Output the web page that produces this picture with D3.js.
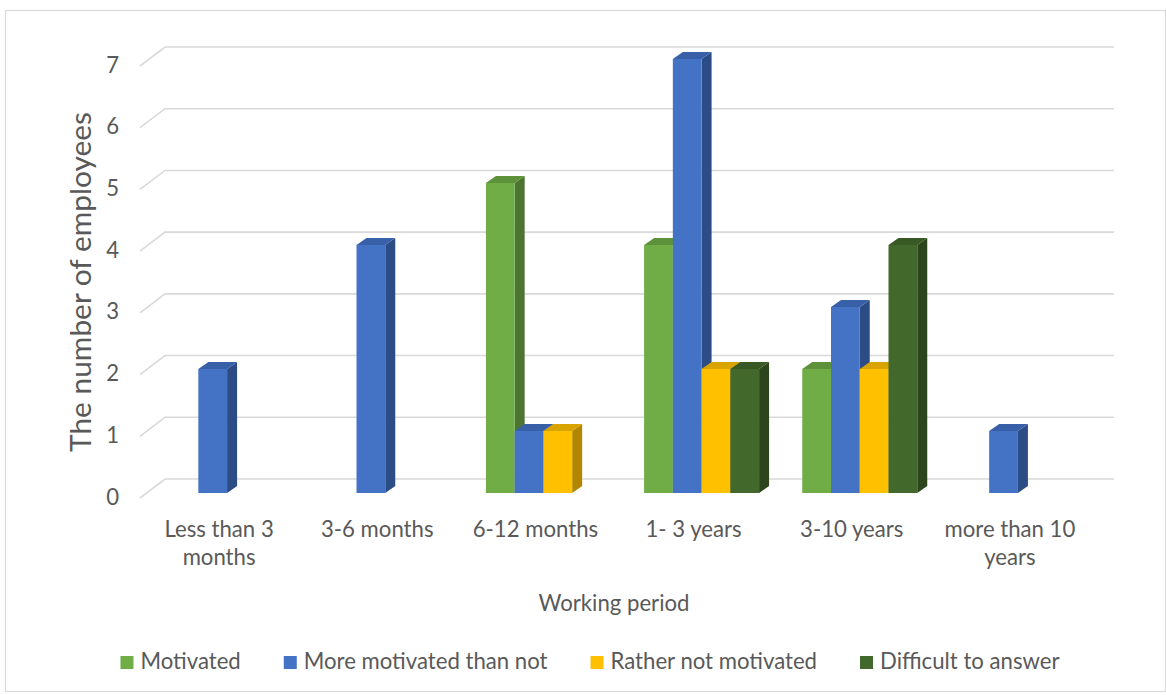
<!DOCTYPE html>
<html>
<head>
<meta charset="utf-8">
<script src="https://cdn.jsdelivr.net/npm/d3@7"></script>
<style>
  html, body { margin: 0; padding: 0; background: #fff; }
  svg { display: block; }
  text { font-family: Lato, "Open Sans", sans-serif; fill: #595959; }
</style>
</head>
<body>
<svg id="chart" width="1166" height="695"></svg>
<script>
// ---- data ----
const categories = ["Less than 3 months", "3-6 months", "6-12 months", "1- 3 years", "3-10 years", "more than 10 years"];
const categoryLines = [["Less than 3", "months"], ["3-6 months"], ["6-12 months"], ["1- 3 years"], ["3-10 years"], ["more than 10", "years"]];
const seriesNames = ["Motivated", "More motivated than not", "Rather not motivated", "Difficult to answer"];
const motivated = [0, 0, 5, 4, 2, 0];
const moreMotivated = [2, 4, 1, 7, 3, 1];
const ratherNot = [0, 0, 1, 2, 2, 0];
const difficult = [0, 0, 0, 2, 4, 0];
const yTicks = [0, 1, 2, 3, 4, 5, 6, 7];
const yTitle = "The number of employees";
const xTitle = "Working period";

const seriesValues = [motivated, moreMotivated, ratherNot, difficult];
const colors = [
  { front: "#70AD47", side: "#4B7530", top: "#5D913A" },
  { front: "#4472C4", side: "#2C4C85", top: "#3860A8" },
  { front: "#FFC000", side: "#B38600", top: "#D9A300" },
  { front: "#43682B", side: "#2C451C", top: "#385824" }
];

const svg = d3.select("#chart");

// border
svg.append("rect").attr("x", 5.5).attr("y", 10.5).attr("width", 1160).attr("height", 681)
  .attr("fill", "#fff").attr("stroke", "#D9D9D9").attr("stroke-width", 1.2);

// font sizing: fit reference text width
const probe = svg.append("text").style("font-size", "20px").text(seriesNames[1]);
const probeW = probe.node().getComputedTextLength();
probe.remove();
const fs = 20 * 244 / probeW;
const probe2 = svg.append("text").style("font-size", "20px").text(yTitle);
const probe2W = probe2.node().getComputedTextLength();
probe2.remove();
const fsTitle = 20 * 340 / probe2W;

// scales
const depthX = 25, depthY = 19;
const xFront = d3.scaleBand().domain(categories).range([140, 1089]).padding(0);
const yBack = d3.scaleLinear().domain([0, 7]).range([479, 47]);
const yBar = d3.scaleLinear().domain([0, 7]).range([493, 59]);
const inner = d3.scaleBand().domain(d3.range(seriesNames.length)).range([-57.5, 57.5]).padding(0);
const barDX = 10, barDY = -7;

// gridlines
const grid = svg.append("g");
yTicks.forEach(t => {
  const yb = yBack(t);
  grid.append("path")
    .attr("d", `M${xFront.range()[0]},${yb + depthY} L${xFront.range()[0] + depthX},${yb} L${xFront.range()[1] + depthX},${yb}`)
    .attr("fill", "none").attr("stroke", "#D9D9D9").attr("stroke-width", 1.6);
  svg.append("text").attr("x", 119).attr("y", yb + depthY + 1)
    .attr("text-anchor", "end").attr("dominant-baseline", "middle")
    .style("font-size", fs + "px").text(t);
});

// bars
const bars = svg.append("g");
categories.forEach((c, ci) => {
  const gc = xFront(c) + xFront.bandwidth() / 2 + 8;
  seriesValues.forEach((vals, si) => {
    const v = vals[ci];
    if (!v) return;
    const x0 = gc + inner(si), x1 = x0 + inner.bandwidth();
    const y0 = yBar(0), y1 = yBar(v);
    const col = colors[si];
    bars.append("path")
      .attr("d", `M${x1},${y1} L${x1 + barDX},${y1 + barDY} L${x1 + barDX},${y0 + barDY} L${x1},${y0} Z`)
      .attr("fill", col.side);
    bars.append("path")
      .attr("d", `M${x0},${y1} L${x0 + barDX},${y1 + barDY} L${x1 + barDX},${y1 + barDY} L${x1},${y1} Z`)
      .attr("fill", col.top);
    bars.append("rect").attr("x", x0).attr("y", y1).attr("width", x1 - x0).attr("height", y0 - y1)
      .attr("fill", col.front);
  });
});

// category labels
categories.forEach((c, ci) => {
  const cx = xFront(c) + xFront.bandwidth() / 2;
  const t = svg.append("text").attr("text-anchor", "middle").style("font-size", fs + "px");
  categoryLines[ci].forEach((line, li) => {
    t.append("tspan").attr("x", cx).attr("y", 537 + li * 28).text(line);
  });
});

// axis titles
svg.append("text").attr("x", 614).attr("y", 611).attr("text-anchor", "middle")
  .style("font-size", fs + "px").text(xTitle);
svg.append("text").attr("transform", "translate(91,282) rotate(-90)").attr("text-anchor", "middle")
  .style("font-size", fsTitle + "px").text(yTitle);

// legend
const legend = svg.append("g");
let widths = seriesNames.map(n => {
  const p = svg.append("text").style("font-size", fs + "px").text(n);
  const w = p.node().getComputedTextLength(); p.remove(); return w;
});
const sq = 13, gapSq = 7, gapItem = 43;
const total = d3.sum(widths) + seriesNames.length * (sq + gapSq) + (seriesNames.length - 1) * gapItem;
let lx = 590 - total / 2;
seriesNames.forEach((n, i) => {
  legend.append("rect").attr("x", lx).attr("y", 656).attr("width", sq).attr("height", sq).attr("fill", colors[i].front);
  legend.append("text").attr("x", lx + sq + gapSq).attr("y", 669).style("font-size", fs + "px").text(n);
  lx += sq + gapSq + widths[i] + gapItem;
});
</script>
</body>
</html>
